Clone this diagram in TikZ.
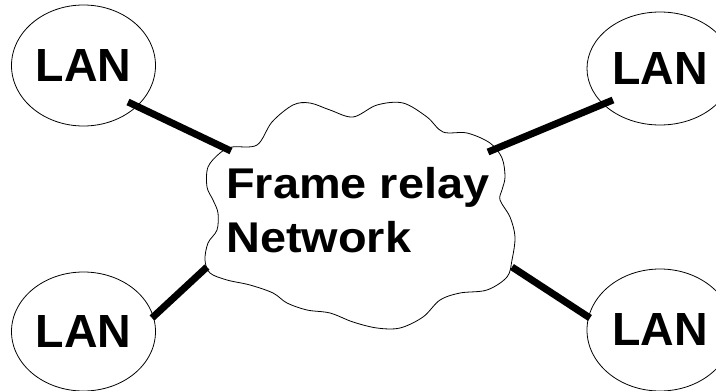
\documentclass[tikz,border=0pt]{standalone}
\usepackage{fontspec}
\setmainfont{Liberation Sans}
\newfontfamily\widesans[FakeStretch=1.09]{Liberation Sans}
\usetikzlibrary{shapes.geometric}
\begin{document}
\begin{tikzpicture}[x=1pt,y=-1pt,
  lan/.style={draw,ellipse,line width=0.8pt,inner sep=0pt,
    font=\fontsize{46.5}{50}\selectfont\bfseries},
  link/.style={line width=7pt,line cap=butt},
  cloudline/.style={line width=0.8pt}]
\useasboundingbox (0,0) rectangle (716,391);
% LAN ellipses
\node[lan,minimum width=144pt,minimum height=121pt] (lan1) at (83.5,65.5) {LAN};
\node[lan,minimum width=146pt,minimum height=113pt] (lan2) at (660,68.5) {LAN};
\node[lan,minimum width=144pt,minimum height=119pt] (lan3) at (83.5,331.5) {LAN};
\node[lan,minimum width=146pt,minimum height=122pt] (lan4) at (660,330) {LAN};
% cloud
\draw[cloudline] plot[smooth cycle,tension=0.55] coordinates {
 (232,147) (257,145) (272,122) (293,105) (310,103) (330,110) (353,117)
 (377,105) (403,103) (427,117) (443,132) (467,133) (490,143) (502,158)
 (505,177) (502,190) (500,200) (510,217) (515,237) (512,260) (507,277)
 (487,290) (460,293) (440,300) (423,317) (400,328) (377,328) (353,322)
 (330,313) (307,310) (287,303) (273,293) (250,285) (227,280) (210,273)
 (205,260) (208,243) (217,230) (218,213) (213,200) (207,187) (208,167)
 (220,153)};
\node[anchor=base west,align=left,inner sep=0pt,
  font=\widesans\fontsize{43}{54}\selectfont\bfseries] (fr) at (226,252) {Frame relay\\Network};
% connection points on the cloud
\coordinate (c1) at (231,151);
\coordinate (c2) at (488,152);
\coordinate (c3) at (207,267);
\coordinate (c4) at (512,267);
\coordinate (e1) at (128,102);
\coordinate (e2) at (613,100);
\coordinate (e3) at (152,318);
\coordinate (e4) at (590,318);
\draw[link] (e1) -- (c1);
\draw[link] (e2) -- (c2);
\draw[link] (e3) -- (c3);
\draw[link] (e4) -- (c4);
\end{tikzpicture}
\end{document}
